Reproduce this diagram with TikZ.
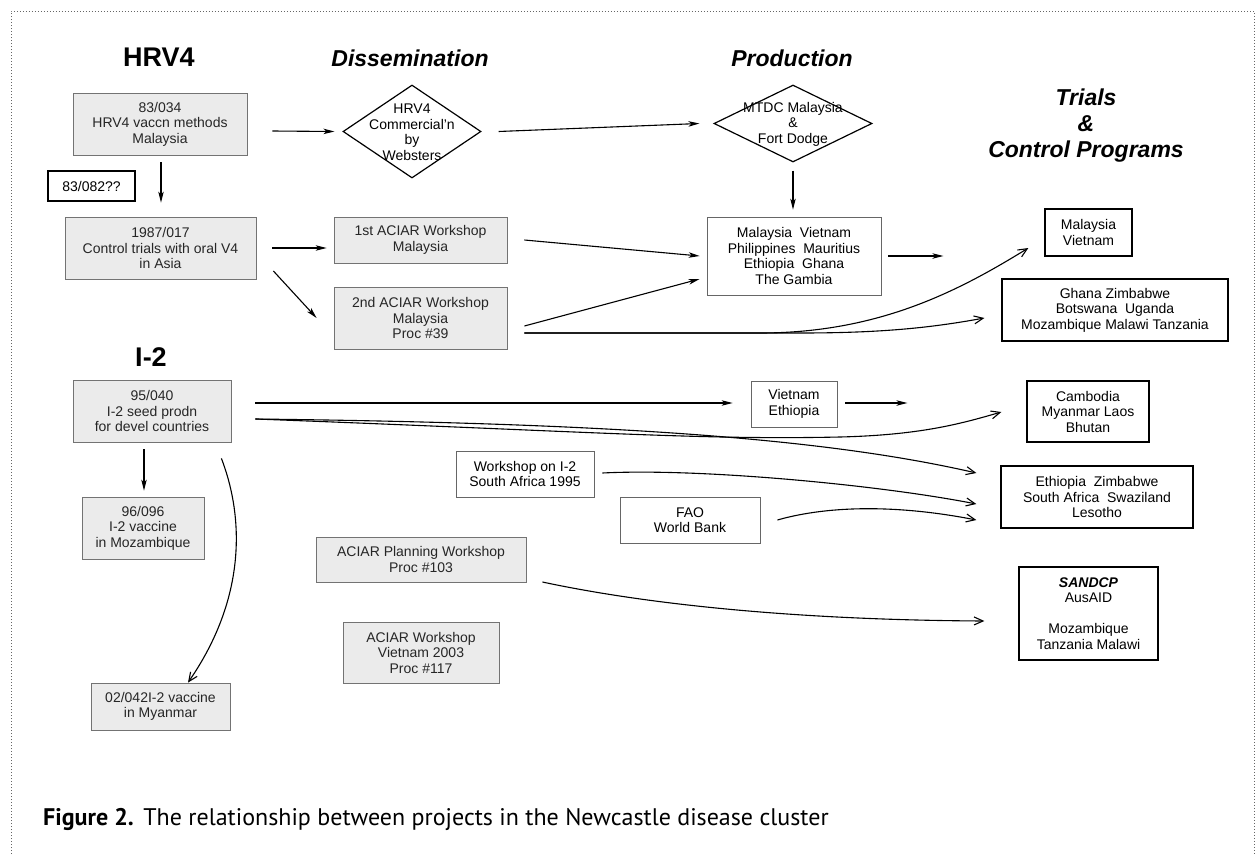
\documentclass[tikz,border=0pt]{standalone}
\usepackage{fontspec}
\setmainfont{Liberation Sans}
\newfontfamily\capfont{PT Sans}
\usetikzlibrary{arrows.meta,shapes.geometric,calc}
\begin{document}
\begin{tikzpicture}[x=1pt,y=-1pt,
  txt/.style={font=\fontsize{14}{15.5}\selectfont, align=center, inner sep=0pt},
  graybox/.style={txt, rectangle, draw=black!55, line width=0.8pt, fill=black!8, text=black!85},
  wbox/.style={txt, rectangle, draw=black, line width=1.3pt, fill=white},
  tbox/.style={txt, rectangle, draw=black!60, line width=0.8pt, fill=white},
  sz/.style 2 args={minimum width=#1pt, minimum height=#2pt},
  ttl/.style={font=\fontsize{23}{26}\selectfont\bfseries\itshape, align=center, inner sep=0pt},
  bigttl/.style={font=\fontsize{27}{30}\selectfont\bfseries, inner sep=0pt},
  dia/.style={diamond, draw=black, line width=1.2pt, inner sep=0pt},
  arr/.style={line width=1.1pt, -{Stealth[length=11pt,width=5.5pt,inset=3pt]}},
  oarr/.style={line width=1.1pt, -{Straight Barb[length=9pt,width=8pt]}},
]
\useasboundingbox (0,0) rectangle (1258,854);
\fill[white] (0,0) rectangle (1258,854);
\draw[black!60, line width=0.8pt, dash pattern=on 0.8pt off 2.2pt] (11,854) -- (11,11) -- (1254,11) -- (1254,854);

% titles
\node[bigttl] (tH) at (159,57) {HRV4};
\node[bigttl] (tI) at (151,357) {I-2};
\node[ttl] (tD) at (410,58) {Dissemination};
\node[ttl] (tP) at (792,58) {Production};
\node[ttl] (tT) at (1086,126) {Trials\\\&\\Control Programs};

% HRV4 column
\node[graybox, sz={174}{62}] (A) at (160,124) {83/034\\HRV4 vaccn methods\\Malaysia};
\node[wbox, sz={87}{30}] (Q) at (91.5,186) {83/082??};
\node[graybox, sz={191}{62}] (B) at (160.5,248) {1987/017\\Control trials with oral V4\\in Asia};

% dissemination
\node[dia, minimum width=138pt, minimum height=93pt] (D1) at (412,131.5) {};
\node[txt] (D1t) at (412,132) {HRV4\\Commercial'n\\by\\Websters};
\node[graybox, sz={173}{46}] (W1) at (420.5,240) {1st ACIAR Workshop\\Malaysia};
\node[graybox, sz={173}{62}] (W2) at (420.5,318) {2nd ACIAR Workshop\\Malaysia\\Proc \#39};

% production
\node[dia, minimum width=158pt, minimum height=77pt] (D2) at (793,123.5) {};
\node[txt] (D2t) at (793,124) {MTDC Malaysia\\\&\\Fort Dodge};
\node[tbox, sz={174}{78}] (P) at (794,256) {Malaysia~ Vietnam\\Philippines~ Mauritius\\Ethiopia~ Ghana\\The Gambia};

% trials
\node[wbox, sz={87}{47}] (T1) at (1088.5,232.5) {Malaysia\\Vietnam};
\node[wbox, sz={226}{62}] (T2) at (1115,310) {Ghana Zimbabwe\\Botswana~ Uganda\\Mozambique Malawi Tanzania};

% I-2 column
\node[graybox, sz={158}{62}] (C) at (152,411) {95/040\\I-2 seed prodn\\for devel countries};
\node[graybox, sz={122}{62}] (M) at (143,528) {96/096\\I-2 vaccine\\in Mozambique};
\node[graybox, sz={139}{47}] (My) at (160.5,706.5) {02/042I-2 vaccine\\in Myanmar};

\node[tbox, sz={86}{46}] (VE) at (794,404) {Vietnam\\Ethiopia};
\node[wbox, sz={122}{61}] (CB) at (1088,411.5) {Cambodia\\Myanmar Laos\\Bhutan};
\node[tbox, sz={138}{46}] (WI) at (525,474) {Workshop on I-2\\South Africa 1995};
\node[tbox, sz={140}{46}] (FAO) at (690,520) {FAO\\World Bank};
\node[wbox, sz={192}{62}] (EZ) at (1097,497) {Ethiopia~ Zimbabwe\\South Africa~ Swaziland\\Lesotho};
\node[graybox, sz={210}{45}] (PL) at (421,559.5) {ACIAR Planning Workshop\\Proc \#103};
\node[graybox, sz={156}{61}] (AV) at (421,652.5) {ACIAR Workshop\\Vietnam 2003\\Proc \#117};
\node[wbox, sz={139}{93}] (SD) at (1088.5,613.5) {{\bfseries\itshape SANDCP}\\AusAID\\[15.5pt]Mozambique\\Tanzania Malawi};

% caption
\node[anchor=base west, inner sep=0pt, font=\capfont\fontsize{24}{28}\selectfont] (cap) at (43,825) {\textbf{Figure 2.}\hspace{0.4em}The relationship between projects in the Newcastle disease cluster};

% free ends
\coordinate (pEnd) at ([shift={(62,0)}]P.east);
\coordinate (veEnd) at ([shift={(70,-1)}]VE.east);

% straight connectors
\draw[arr] ([shift={(25,7)}]A.east) -- ([shift={(-8,0)}]D1.west);
\draw[arr] ([shift={(17,0)}]D1.east) -- ([shift={(-14,0)}]D2.west);
\draw[arr] ([shift={(1,7)}]A.south) -- ([shift={(0.5,-14)}]B.north);
\draw[arr] ([shift={(16,0)}]B.east) -- ([shift={(-7,8)}]W1.west);
\draw[arr] ([shift={(17,23)}]B.east) -- ([shift={(-17,0)}]W2.west);
\draw[arr] ([shift={(0,8)}]D2.south) -- ([shift={(-1,-7)}]P.north);
\draw[arr] ([shift={(17,0)}]W1.east) -- ([shift={(-7,0)}]P.west);
\draw[arr] ([shift={(17,8)}]W2.east) -- ([shift={(-7,23)}]P.west);
\draw[arr] ([shift={(7,0)}]P.east) -- (pEnd);
\draw[arr] ([shift={(24,-8)}]C.east) -- ([shift={(-18,-1)}]VE.west);
\draw[arr] ([shift={(8,-1)}]VE.east) -- (veEnd);
\draw[arr] ([shift={(-8,7)}]C.south) -- ([shift={(1,-6)}]M.north);

% curved connectors
\draw[oarr] ([shift={(17,15)}]W2.east) -- (760,333) .. controls (880,333) and (960,290) .. ([shift={(-16,15.5)}]T1.west);
\draw[oarr] ([shift={(17,15)}]W2.east) -- (800,333) .. controls (880,333) and (930,328) .. ([shift={(-17,8)}]T2.west);
\draw[oarr] ([shift={(24,8)}]C.east) .. controls (600,432) and (700,440) .. (840,437) .. controls (920,435) and (960,424) .. ([shift={(-25,0.5)}]CB.west);
\draw[oarr] ([shift={(24,8)}]C.east) .. controls (600,423) and (820,437) .. ([shift={(-24,-24)}]EZ.west);
\draw[oarr] ([shift={(8,-1)}]WI.east) .. controls (700,468) and (880,485) .. ([shift={(-24,7)}]EZ.west);
\draw[oarr] ([shift={(17,0)}]FAO.east) .. controls (830,505) and (900,505) .. ([shift={(-24,23)}]EZ.west);
\draw[oarr] ([shift={(16,22.5)}]PL.east) .. controls (650,605) and (800,620) .. ([shift={(-34,7.5)}]SD.west);
\draw[oarr] ([shift={(-10,16)}]C.south east) .. controls (245,520) and (245,600) .. ([shift={(27.5,0)}]My.north);
\end{tikzpicture}
\end{document}
